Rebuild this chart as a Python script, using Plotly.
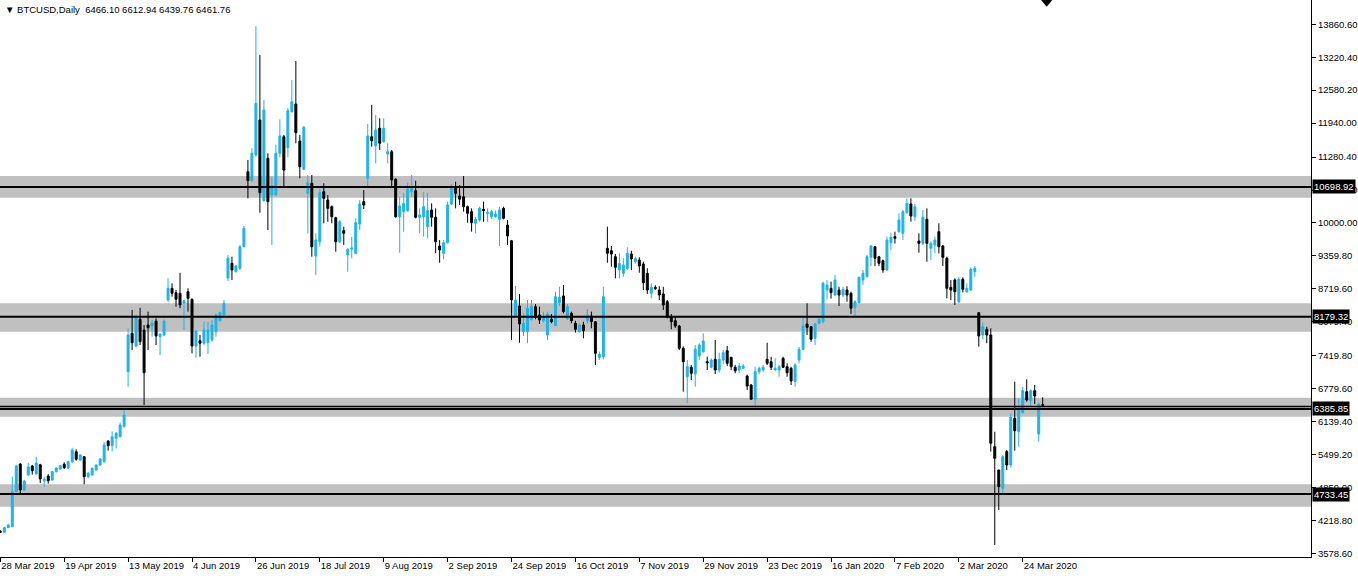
import plotly.graph_objects as go

# ---------------- data ----------------
opens = [4010,3990,4080,4098,4778,5316,4811,5102,5277,5122,5302,4990,5083,5005,5167,5219,
         5311,5238,5361,5555,5394,5458,5070,5103,5200,5297,5361,5763,5672,5816,5847,6041,
         7110,7856,7609,8128,7920,8017,7998,8095,7790,7823,8503,8730,8645,8633,8440,8664,
         8517,7609,7712,7662,7673,7726,7887,8101,8212,8930,9216,9053,9119,9538,
         10996,10821,11320,12000,10432,11256,10543,10543,11353,11676,11462,12162,12311,11592,11042,10576,
         10770,9358,9636,10607,10446,10316,10102,9636,9850,9377,9494,9410,9980,10413,10868,11676,
         11495,11839,11579,11340,11384,10848,10121,10219,10238,10607,10627,10110,10121,9927,10252,10110,
         9552,9410,9616,10368,10673,10524,10510,10316,10219,9993,10057,10265,10187,10121,10121,10071,
         10284,9960,9655,8192,8386,7887,7887,8128,8373,8212,8101,7823,8128,8004,8451,8581,
         8147,8244,8050,7887,8017,8101,8192,8082,7389,7401,9507,9461,9345,9086,9022,9119,
         9397,9247,9280,9203,9022,8633,8749,8697,8620,8470,8179,8101,7998,7565,7013,7195,
         7065,7415,7498,7304,7195,7351,7143,7337,7518,7389,7195,7143,7176,7026,6851,6574,
         7110,7143,7351,7304,7143,7143,7370,7207,7176,6916,7337,7545,8037,7984,7759,8050,
         8082,8697,8730,8600,8697,8600,8697,8633,8361,8451,8892,8956,9333,9538,9344,9267,
         9086,9616,9733,9830,9799,10199,10368,10121,9650,9604,10071,9507,9572,9830,9552,9313,
         8749,8892,8470,8905,8664,8697,9053,8256,7823,7933,7823,5652,5200,4844,5556,5297,
         6205,5944,6313,6721,6546,6741,5899,6466.10]
highs = [4030,4095,4150,5070,5300,5330,5010,5336,5300,5458,5320,5070,5120,5180,5250,5300,
         5350,5380,5633,5600,5510,5470,5160,5250,5310,5430,5750,5780,5950,5940,6120,6399,
         7953,8309,8212,8353,8017,8276,8114,8147,7856,8128,8925,8828,8697,9033,8503,8730,
         8530,7920,7823,8082,8082,8114,8244,8276,8503,9377,9345,9180,9572,9941,
         11223,11451,13827,13263,12389,11353,10899,11515,12014,11709,12228,12778,13147,11709,11884,10932,
         10932,9799,10673,10770,10543,10340,10121,10057,9927,9510,9733,10090,10446,10640,11923,12292,
         12098,12034,12034,11547,11417,10870,10510,10576,10782,10932,10821,10284,10607,10588,10381,10284,
         9669,9669,10413,10757,10801,10737,10912,10340,10284,10121,10316,10413,10284,10252,10240,10316,
         10316,10057,9670,8775,8620,8244,8503,8503,8425,8373,8276,8276,8231,8664,8761,8795,
         8425,8276,8101,8060,8082,8322,8276,8082,7500,8761,9927,9552,9397,9410,9313,9527,
         9461,9345,9333,9247,9119,8827,8790,8770,8760,8503,8231,8179,8017,7600,7337,7240,
         7629,7660,7856,7401,7370,7726,7479,7531,7609,7400,7240,7280,7260,7050,6870,7207,
         7207,7240,7673,7400,7370,7240,7400,7270,7207,7270,7590,8179,8439,7998,8060,8179,
         8860,8892,8860,8989,8760,8760,8770,8665,8500,8956,9086,9377,9572,9552,9360,9290,
         9733,9811,9830,10187,10252,10479,10479,10370,9799,10252,10284,9640,9733,9993,9572,9345,
         8892,8924,8944,8944,8827,9138,9164,8260,8062,7984,7953,5944,5200,5491,5588,6302,
         6916,6593,6818,6962,6768,6852,6508,6612.94]
lows = [3975,3985,4070,4090,4770,4753,4790,5090,5110,5110,4947,4876,4935,4990,5150,5210,
        5220,5220,5340,5380,5380,4922,5040,5090,5190,5280,5340,5575,5560,5620,5830,6030,
        6818,7531,7584,7629,6463,7531,7790,7629,7434,7804,8470,8567,8373,8342,7920,8276,
        7467,7382,7401,7629,7454,7693,7790,8082,8179,8872,8892,9040,9086,9527,
        10479,10801,11287,10199,10413,9863,9572,10529,11276,10705,11276,12142,11547,10868,11029,9799,
        9344,8989,9538,9993,10024,9993,9441,9604,9572,9053,9313,9391,9863,10271,10718,11482,
        11159,11417,11559,11159,10705,10100,9422,9830,10219,10510,10090,9799,9733,9702,9927,9410,
        9228,9294,9604,10349,10284,10349,10219,10005,9830,9799,10024,10024,10024,10077,10100,9552,
        10071,9572,7726,8179,7673,7804,7662,8101,8128,8037,8070,7726,8050,7998,8386,8244,
        8114,8050,7868,7868,7759,8050,7953,7240,7337,7351,9228,9150,8924,8924,8956,9086,
        9086,9210,9033,8697,8620,8536,8700,8503,8309,8147,7933,7960,7531,6721,6496,6948,
        6818,7337,7480,7143,7176,7065,7090,7259,7221,7143,7080,7080,7160,6754,6560,6366,
        7060,7110,7240,7143,7130,7013,7180,7013,6851,6818,7270,7530,7823,7693,7629,8030,
        8050,8516,8530,8580,8386,8560,8470,8231,8179,8440,8795,8944,9164,9160,9160,9033,
        9073,9475,9600,9811,9669,10180,10024,10040,9422,9570,9247,9280,9410,9410,9164,8536,
        8503,8406,8439,8650,8640,8680,8956,7596,7739,7662,5556,3743,4423,4747,5200,5250,
        5575,5652,6300,6527,6443,6482,5750,6439.76]
closes = [3990,4080,4130,4778,5277,4811,4986,5258,5186,5336,5025,5020,4992,5167,5238,5283,
          5245,5361,5588,5408,5491,5070,5136,5232,5297,5414,5686,5672,5847,5913,6074,6268,
          7823,7673,8147,7693,7090,7965,8056,7804,7842,8095,8730,8633,8517,8406,8490,8536,
          7609,7901,7662,7920,7920,8017,8212,8257,8439,9319,9086,9164,9538,9896,
          10821,11353,12325,10588,12195,10413,10724,11353,11690,11029,12181,12356,11754,11093,11859,10782,
          9538,9669,10588,10479,10284,10121,9636,10024,9799,9488,9513,10005,10368,10349,11690,11598,
          11806,11547,11839,11384,10834,10121,10329,10381,10654,10673,10110,10155,10316,10238,10110,9636,
          9475,9616,10349,10673,10576,10460,10316,10187,10005,10071,10284,10238,10207,10219,10168,10252,
          10090,9746,8503,8503,8037,8050,8342,8373,8167,8114,8179,8231,8082,8567,8555,8276,
          8373,8101,7933,8017,7906,8212,8082,7467,7448,8567,9410,9397,9138,9216,9183,9410,
          9300,9306,9164,8839,8697,8749,8723,8600,8406,8167,8082,7998,7565,7304,7207,7079,
          7545,7629,7706,7285,7337,7143,7351,7479,7273,7207,7129,7221,7221,6832,6574,7110,
          7176,7195,7273,7195,7176,7207,7195,7090,6929,7240,7545,7998,7972,7739,8037,8128,
          8828,8795,8645,8892,8600,8711,8600,8342,8470,8944,9022,9344,9552,9313,9216,9086,
          9669,9721,9702,10057,10219,10381,10135,10316,9604,10110,9604,9604,9669,9538,9333,8730,
          8697,8664,8905,8711,8730,9099,9119,7804,7984,7823,5719,5427,4876,5458,5297,6224,
          5963,6399,6741,6560,6741,6638,6482,6461.76]

date_labels = ["28 Mar 2019", "19 Apr 2019", "13 May 2019", "4 Jun 2019", "26 Jun 2019",
               "18 Jul 2019", "9 Aug 2019", "2 Sep 2019", "24 Sep 2019", "16 Oct 2019",
               "7 Nov 2019", "29 Nov 2019", "23 Dec 2019", "16 Jan 2020", "7 Feb 2020",
               "2 Mar 2020", "24 Mar 2020"]
bars_per_label = 16

price_ticks = [13860.60, 13220.40, 12580.20, 11940.00, 11280.40, 10640.20, 10000.00,
               9359.80, 8719.60, 8079.40, 7419.80, 6779.60, 6139.40, 5499.20, 4859.00,
               4218.80, 3578.60]

levels = [10698.92, 8179.32, 6385.85, 4733.45]          # labelled horizontal lines
extra_lines = [6432.0]                                  # second line next to 6385.85
zones = [(10491, 10912), (7887, 8439), (6236, 6605), (4487, 4922)]  # grey S/R zones

header = "▼ BTCUSD,Daily  6466.10 6612.94 6439.76 6461.76"

# ---------------- styling ----------------
BULL = "#1EB4E6"
BEAR = "#000000"
FONT = "Liberation Sans, Arial, sans-serif"
FS = 9.5

n = len(closes)
xs = list(range(n))

fig = go.Figure()
fig.add_trace(go.Candlestick(
    x=xs, open=opens, high=highs, low=lows, close=closes,
    increasing=dict(line=dict(color=BULL, width=1), fillcolor=BULL),
    decreasing=dict(line=dict(color=BEAR, width=1), fillcolor=BEAR),
    whiskerwidth=0, hoverinfo="skip", showlegend=False,
))

shapes = []
for lo, hi in zones:
    shapes.append(dict(type="rect", xref="paper", yref="y", x0=0, x1=1, y0=lo, y1=hi,
                       fillcolor="#C0C0C0", line=dict(width=0), layer="below"))
for lv in levels:
    shapes.append(dict(type="line", xref="paper", yref="y", x0=0, x1=1, y0=lv, y1=lv,
                       line=dict(color="black", width=2), layer="above"))
for lv in extra_lines:
    shapes.append(dict(type="line", xref="paper", yref="y", x0=0, x1=1, y0=lv, y1=lv,
                       line=dict(color="black", width=1.5), layer="above"))
# chart-shift marker at the top
shapes.append(dict(type="path", xref="x", yref="paper",
                   path="M 260.6,1 L 263.4,1 L 262.0,0.988 Z",
                   fillcolor="black", line=dict(width=0)))

annotations = [dict(text=header, x=0, y=1, xref="paper", yref="paper",
                    xanchor="left", yanchor="top", xshift=3, yshift=-2, showarrow=False,
                    font=dict(family=FONT, size=FS, color="black"))]
for lv in levels:
    annotations.append(dict(text=f"{lv:.2f}", x=1, y=lv, xref="paper", yref="y",
                            xanchor="left", yanchor="middle", xshift=1, showarrow=False,
                            bgcolor="black", borderpad=1,
                            font=dict(family=FONT, size=FS, color="white")))

fig.update_layout(
    width=1358, height=576,
    margin=dict(l=0, r=45, t=0, b=19),
    paper_bgcolor="white", plot_bgcolor="white",
    showlegend=False, hovermode=False,
    boxgap=0.3,
    shapes=shapes, annotations=annotations,
    xaxis=dict(
        range=[-0.075, 328.175], rangeslider=dict(visible=False),
        showgrid=False, zeroline=False, showline=True, linecolor="black", linewidth=1,
        tickvals=[i * bars_per_label for i in range(len(date_labels))], ticktext=date_labels,
        ticks="outside", ticklen=4, tickcolor="black", tickwidth=1,
        ticklabelposition="outside right",
        tickfont=dict(family=FONT, size=FS, color="black"),
    ),
    yaxis=dict(
        range=[3509.5, 14332], side="right",
        showgrid=False, zeroline=False, showline=True, linecolor="black", linewidth=1,
        tickvals=price_ticks, ticktext=[f"{v:.2f}" for v in price_ticks],
        ticks="outside", ticklen=4, tickcolor="black", tickwidth=1,
        tickfont=dict(family=FONT, size=FS, color="black"),
    ),
)

fig.write_html(
    "out.html",
    config={"displayModeBar": False},
    post_script="document.body.style.margin='0';document.body.style.overflow='hidden';",
)
